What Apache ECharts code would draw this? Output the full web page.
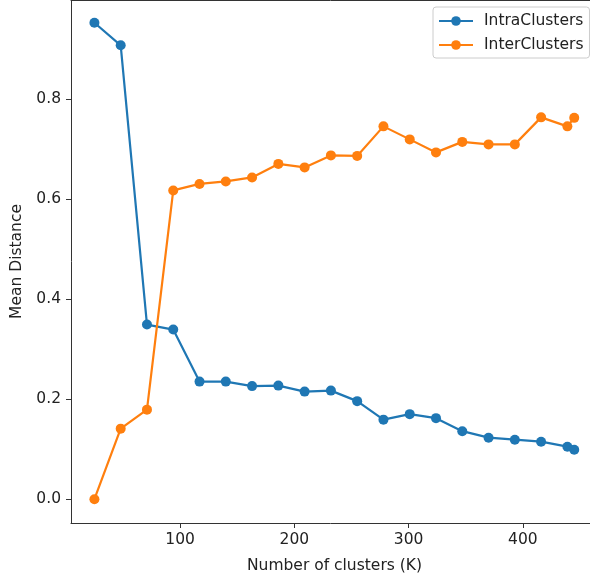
<!DOCTYPE html>
<html>
<head>
<meta charset="utf-8">
<script src="https://cdn.jsdelivr.net/npm/echarts@6/dist/echarts.min.js"></script>
<style>
html,body{margin:0;padding:0;background:#fff;}
#chart{width:590px;height:575px;}
</style>
</head>
<body>
<div id="chart"></div>
<script>
const kValues = [25, 48, 71, 94, 117, 140, 163, 186, 209, 232, 255, 278, 301, 324, 347, 370, 393, 416, 439, 445];
const intraValues = [0.952, 0.907, 0.349, 0.339, 0.235, 0.235, 0.226, 0.227, 0.215, 0.217, 0.196, 0.159, 0.170, 0.162, 0.136, 0.123, 0.119, 0.115, 0.105, 0.099];
const interValues = [0.000, 0.141, 0.179, 0.617, 0.630, 0.635, 0.643, 0.670, 0.663, 0.687, 0.686, 0.745, 0.719, 0.693, 0.714, 0.709, 0.709, 0.763, 0.745, 0.762];
const xTicks = [100, 200, 300, 400];
const yTicks = [0, 0.2, 0.4, 0.6, 0.8];
const seriesNames = ['IntraClusters', 'InterClusters'];

const FONT = 'DejaVu Sans';
const TXT = '#222';
const AX = '#333';
const FS = 15.5;

const chart = echarts.init(document.getElementById('chart'), null, {renderer: 'canvas'});
const pair = vals => kValues.map((k, i) => [k, vals[i]]);

chart.setOption({
  animation: false,
  backgroundColor: '#fff',
  grid: {left: 71, right: 0, top: 0, bottom: 52, containLabel: false, outerBoundsMode: 'none'},
  legend: {
    orient: 'vertical',
    left: 433, top: 7,
    padding: [6, 6, 5, 5],
    itemWidth: 34, itemHeight: 12, itemGap: 8,
    borderColor: '#cccccc', borderWidth: 1, borderRadius: 3,
    backgroundColor: 'rgba(255,255,255,0.8)',
    textStyle: {fontFamily: FONT, fontSize: FS, color: TXT, padding: [0, 0, 0, 6]},
    data: seriesNames
  },
  xAxis: [{
    type: 'value', min: 4.5, max: 458.8,
    name: 'Number of clusters (K)', nameLocation: 'middle', nameGap: 35,
    nameTextStyle: {fontFamily: FONT, fontSize: FS, color: TXT, padding: [0, 0, 0, 8]},
    axisLine: {show: true, onZero: false, lineStyle: {color: AX, width: 1}},
    axisTick: {show: true, inside: false, length: 5, customValues: xTicks, lineStyle: {color: AX}},
    axisLabel: {customValues: xTicks, margin: 9, fontFamily: FONT, fontSize: FS, color: TXT},
    splitLine: {show: false}
  }, {
    type: 'value', position: 'top', min: 4.5, max: 458.8,
    axisLine: {show: true, onZero: false, lineStyle: {color: AX, width: 1}},
    axisTick: {show: false}, axisLabel: {show: false}, splitLine: {show: false}
  }],
  yAxis: {
    type: 'value', min: -0.0475, max: 0.9975,
    name: 'Mean Distance', nameLocation: 'middle', nameGap: 42,
    nameTextStyle: {fontFamily: FONT, fontSize: FS, color: TXT},
    axisLine: {show: true, onZero: false, lineStyle: {color: AX, width: 1}},
    axisTick: {show: true, inside: false, length: 5, customValues: yTicks, lineStyle: {color: AX}},
    axisLabel: {customValues: yTicks, margin: 10, fontFamily: FONT, fontSize: FS, color: TXT,
      formatter: v => v.toFixed(1)},
    splitLine: {show: false}
  },
  series: [{
    name: seriesNames[0], type: 'line', data: pair(intraValues),
    symbol: 'circle', symbolSize: 10, showSymbol: true,
    itemStyle: {color: '#1f77b4'}, lineStyle: {color: '#1f77b4', width: 2.2}
  }, {
    name: seriesNames[1], type: 'line', data: pair(interValues),
    symbol: 'circle', symbolSize: 10, showSymbol: true,
    itemStyle: {color: '#ff7f0e'}, lineStyle: {color: '#ff7f0e', width: 2.2}
  }]
});
</script>
</body>
</html>
